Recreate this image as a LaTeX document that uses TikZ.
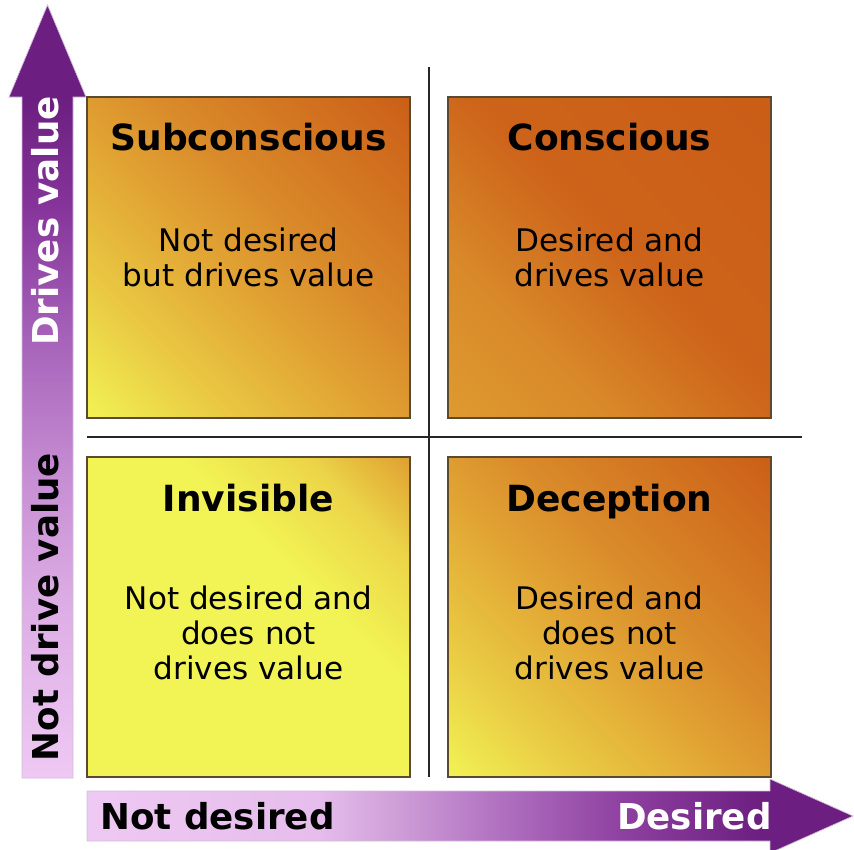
\documentclass[tikz,border=0pt]{standalone}
\usepackage{fontspec}
\setmainfont{DejaVu Sans}

\definecolor{ylw}{HTML}{F2F455}
\definecolor{gold}{HTML}{E2A634}
\definecolor{amber}{HTML}{D98A2A}
\definecolor{rust}{HTML}{CB5D17}
\definecolor{plum}{HTML}{6C1F80}
\definecolor{lilac}{HTML}{EEC9F3}
\definecolor{boxedge}{HTML}{5A4A32}

% quadrant fills, bottom-left to top-right
\pgfdeclareverticalshading{subshade}{100bp}{color(0bp)=(ylw); color(14bp)=(ylw); color(30bp)=(ylw!45!gold); color(45bp)=(gold); color(58bp)=(amber); color(86bp)=(rust); color(100bp)=(rust)}
\pgfdeclareverticalshading{conshade}{100bp}{color(0bp)=(gold!55!amber); color(15bp)=(gold!55!amber); color(32bp)=(amber); color(52bp)=(rust!85!amber); color(86bp)=(rust); color(100bp)=(rust)}
\pgfdeclareverticalshading{invshade}{100bp}{color(0bp)=(ylw); color(60bp)=(ylw); color(74bp)=(ylw!60!gold); color(86bp)=(gold!65!amber); color(100bp)=(gold!65!amber)}

% axis fills
\pgfdeclareverticalshading{valueshade}{100bp}{color(0bp)=(lilac); color(25bp)=(lilac); color(36bp)=(rgb,255:red,221;green,174;blue,229); color(44bp)=(rgb,255:red,200;green,144;blue,212); color(54bp)=(rgb,255:red,164;green,96;blue,184); color(62bp)=(rgb,255:red,133;green,52;blue,154); color(69bp)=(plum); color(100bp)=(plum)}
\pgfdeclarehorizontalshading{desireshade}{100bp}{color(0bp)=(lilac); color(25bp)=(lilac); color(40bp)=(rgb,255:red,230;green,189;blue,236); color(45bp)=(rgb,255:red,207;green,160;blue,216); color(52bp)=(rgb,255:red,176;green,112;blue,192); color(60bp)=(rgb,255:red,142;green,64;blue,160); color(69bp)=(plum); color(100bp)=(plum)}

\begin{document}
\begin{tikzpicture}[x=0.02cm, y=-0.02cm,
  title/.style={font=\bfseries\fontsize{20.5}{24}\selectfont, anchor=north, inner sep=0pt},
  body/.style={font=\fontsize{17.7}{19.8}\selectfont, align=center, anchor=north, inner sep=0pt},
  axislabel/.style={font=\bfseries\fontsize{20.3}{24}\selectfont, inner sep=0pt},
  quad/.style={draw=boxedge, line width=0.6pt, shading angle=-45},
  divider/.style={line width=1.1pt, draw=black!85}]

\useasboundingbox (0,0) rectangle (854,849);

% axes
\shadedraw[shading=valueshade, draw=plum!30, line width=0.4pt]
  (22,778) -- (73,778) -- (73,97) -- (86,97) -- (47.5,5) -- (9,97) -- (22,97) -- cycle;
\shadedraw[shading=desireshade, draw=plum!30, line width=0.4pt]
  (87,791) -- (770,791) -- (770,779) -- (853,816) -- (770,853) -- (770,841) -- (87,841) -- cycle;

% quadrants
\shadedraw[quad, shading=subshade] (87,97) rectangle (410,418);
\shadedraw[quad, shading=conshade] (448,97) rectangle (771,418);
\shadedraw[quad, shading=invshade] (87,457) rectangle (410,777);
\shadedraw[quad, shading=subshade] (448,457) rectangle (771,777);

\draw[divider] (429,67) -- (429,777);
\draw[divider] (87,437) -- (802,437);

\node[title] (subT) at (248.5,123) {Subconscious};
\node[body] (subB) at (248.5,228) {Not desired\\but drives value};

\node[title] (conT) at (609.5,123) {Conscious};
\node[body] (conB) at (609.5,228) {Desired and\\drives value};

\node[title] (invT) at (248.5,484) {Invisible};
\node[body] (invB) at (248.5,586) {Not desired and\\does not\\drives value};

\node[title] (decT) at (609.5,484) {Deception};
\node[body] (decB) at (609.5,586) {Desired and\\does not\\drives value};

% axis labels
\node[axislabel, white, rotate=90] (drives) at (45,221) {Drives value};
\node[axislabel, rotate=90] (notdrive) at (45,607) {Not drive value};
\node[axislabel, anchor=west] (notdesired) at (100,816) {Not desired};
\node[axislabel, white, anchor=east] (desired) at (772,816) {Desired};

\end{tikzpicture}
\end{document}
